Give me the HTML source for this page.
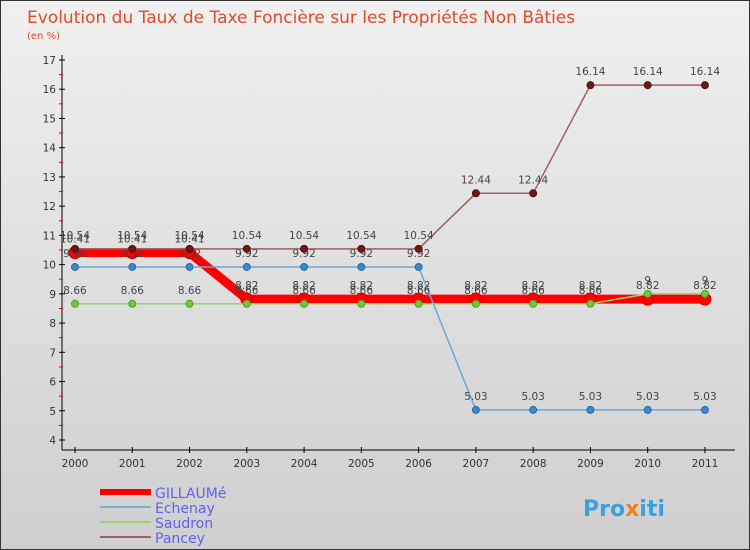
<!DOCTYPE html>
<html><head><meta charset="utf-8"><style>
body{margin:0;background:#fff}
svg{display:block;font-family:"DejaVu Sans","Liberation Sans",sans-serif}
</style></head><body>
<svg id="c" width="750" height="550">
<defs><linearGradient id="bg" x1="0" y1="0" x2="0" y2="1"><stop offset="0" stop-color="#f0f0f0"/><stop offset="1" stop-color="#cfcfcf"/></linearGradient></defs>
<rect x="0.5" y="0.5" width="749" height="549" fill="url(#bg)" stroke="#333"/>
<text x="27" y="23" font-size="17" font-weight="normal" fill="#e04a2a">Evolution du Taux de Taxe Foncière sur les Propriétés Non Bâties</text>
<text x="27" y="39" font-size="10" fill="#e04a2a">(en %)</text>
<g id="axes"></g><g id="series"></g><g id="legend"></g>
<text x="583" y="516" font-size="22" font-weight="bold" fill="#3aa0e0">Pro<tspan fill="#f08020">x</tspan>iti</text>
</svg>
<script>
const years=["2000","2001","2002","2003","2004","2005","2006","2007","2008","2009","2010","2011"];
const yTicks=[4,5,6,7,8,9,10,11,12,13,14,15,16,17];
const gillaume=[10.41,10.41,10.41,8.82,8.82,8.82,8.82,8.82,8.82,8.82,8.82,8.82];
const echenay=[9.92,9.92,9.92,9.92,9.92,9.92,9.92,5.03,5.03,5.03,5.03,5.03];
const saudron=[8.66,8.66,8.66,8.66,8.66,8.66,8.66,8.66,8.66,8.66,9,9];
const pancey=[10.54,10.54,10.54,10.54,10.54,10.54,10.54,12.44,12.44,16.14,16.14,16.14];
const NS="http://www.w3.org/2000/svg";
function X(i){return 75+i*57.27;}
function Y(v){return 440-(v-4)*29.23;}
function mk(t,a,p){const e=document.createElementNS(NS,t);for(const k in a)e.setAttribute(k,a[k]);p.appendChild(e);return e;}
const ax=document.getElementById('axes');
let yl=mk('line',{x1:62,y1:55,x2:62,y2:450,stroke:'#000'},ax);


let xl=mk('line',{x1:62,y1:450,x2:735,y2:450,stroke:'#000'},ax);


yTicks.forEach(v=>{
 mk('line',{x1:59,y1:Y(v),x2:65,y2:Y(v),stroke:'#000'},ax);
 if(v<17)mk('line',{x1:59,y1:Y(v+0.5),x2:63,y2:Y(v+0.5),stroke:'#e00'},ax);
 const t=mk('text',{x:56,y:Y(v)+4,'font-size':10.5,fill:'#333','text-anchor':'end'},ax);t.textContent=v;
 
 
});
years.forEach((y,i)=>{
 mk('line',{x1:X(i),y1:447,x2:X(i),y2:453,stroke:'#000'},ax);
 const t=mk('text',{x:X(i),y:467,'font-size':10.5,fill:'#333','text-anchor':'middle'},ax);t.textContent=y;
 
 
});
const sg=document.getElementById('series');
function draw(vals,name,color,w,r,dot,dotStroke){
 const g=mk('g',{},sg);
 
 
 mk('polyline',{points:vals.map((v,i)=>X(i)+','+Y(v)).join(' '),fill:'none',stroke:color,'stroke-width':w},g);
 vals.forEach((v,i)=>{
  const c=mk('circle',{cx:X(i),cy:Y(v),r:r,fill:dot,stroke:dotStroke,'stroke-width':1},g);
  
  
  const t=mk('text',{x:X(i),y:Y(v)-10,'font-size':10.5,fill:'#444','text-anchor':'middle'},g);t.textContent=String(v);
 });
}
draw(gillaume,'gillaume','#f00',9,6,'#f00','#c00');
draw(echenay,'echenay','#6aa8d8',1.5,3.5,'#3a8ad0','#2a6aa0');
draw(saudron,'saudron','#90d870',1.5,3.5,'#70c840','#50a020');
draw(pancey,'pancey','#a06060',1.5,3.5,'#701818','#501010');
const lg=document.getElementById('legend');
[['GILLAUMé','#f00',6],['Echenay','#7ab0d0',2],['Saudron','#90d870',2],['Pancey','#a06060',2]].forEach((d,i)=>{
 const y=492+i*15;
 const g=mk('g',{},lg);
 
 
 mk('line',{x1:100,y1:y,x2:151,y2:y,stroke:d[1],'stroke-width':d[2]},g);
 const t=mk('text',{x:155,y:y+6,'font-size':14,fill:'#6060f0'},g);t.textContent=d[0];
});
</script>
</body></html>
